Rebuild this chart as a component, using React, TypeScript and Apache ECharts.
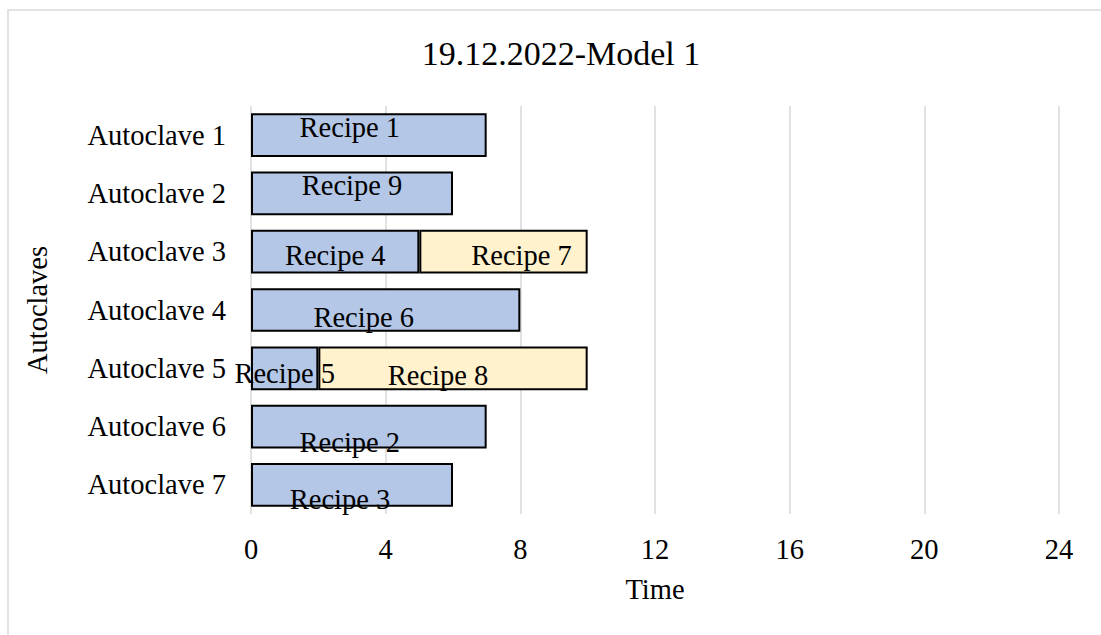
import React, { useEffect, useRef } from "react";
import * as echarts from "echarts";

// Schedule of recipes per autoclave (durations in hours)
const autoclaves = [
  "Autoclave 1",
  "Autoclave 2",
  "Autoclave 3",
  "Autoclave 4",
  "Autoclave 5",
  "Autoclave 6",
  "Autoclave 7",
];
const firstRecipe = ["Recipe 1", "Recipe 9", "Recipe 4", "Recipe 6", "Recipe 5", "Recipe 2", "Recipe 3"];
const firstDuration = [7, 6, 5, 8, 2, 7, 6];
const secondRecipe = ["", "", "Recipe 7", "", "Recipe 8", "", ""];
const secondDuration: (number | null)[] = [null, null, 5, null, 8, null, null];
const timeTicks = [0, 4, 8, 12, 16, 20, 24];

// label nudges (px) so each recipe name sits where it is placed in the schedule sheet
const firstLabelShift = [[-19, -8], [0, -8], [0, 4], [-22, 7], [0, 5], [-19, 16], [-12, 15]];
const secondLabelShift = [[0, 0], [0, 0], [18, 4], [0, 0], [-15, 7], [0, 0], [0, 0]];

const FONT = "'Liberation Serif', 'Times New Roman', serif";
const FS = 28.5;

export default function App() {
  const ref = useRef<HTMLDivElement>(null);

  useEffect(() => {
    if (!ref.current) return;
    const chart = echarts.init(ref.current, null, { renderer: "svg" });

    const labelStyle = {
      show: true,
      position: "inside",
      color: "#000",
      fontFamily: FONT,
      fontSize: FS,
    };

    chart.setOption({
      animation: false,
      backgroundColor: "#fff",
      textStyle: { fontFamily: FONT },
      title: {
        text: "19.12.2022-Model 1",
        left: 556,
        top: 31,
        textAlign: "center",
        textStyle: { fontFamily: FONT, fontSize: 34, fontWeight: "normal", color: "#000" },
      },
      graphic: [
        {
          type: "rect",
          shape: { x: 8, y: 10, width: 1110, height: 640 },
          style: { fill: "none", stroke: "#d9d9d9", lineWidth: 1.5 },
          silent: true,
          z: -1,
        },
      ],
      grid: { left: 251, right: 42, top: 106, bottom: 121, containLabel: false },
      xAxis: {
        type: "value",
        min: timeTicks[0],
        max: timeTicks[timeTicks.length - 1],
        interval: 4,
        name: "Time",
        nameLocation: "middle",
        nameGap: 61,
        nameTextStyle: { fontFamily: FONT, fontSize: FS, color: "#000" },
        axisLine: { show: false },
        axisTick: { show: false },
        axisLabel: { fontFamily: FONT, fontSize: FS, color: "#000", margin: 21 },
        splitLine: { show: true, lineStyle: { color: "#d9d9d9", width: 1.5 } },
      },
      yAxis: {
        type: "category",
        data: autoclaves,
        inverse: true,
        name: "Autoclaves",
        nameLocation: "middle",
        nameGap: 199,
        nameTextStyle: { fontFamily: FONT, fontSize: FS, color: "#000" },
        axisLine: { show: false },
        axisTick: { show: false },
        axisLabel: { fontFamily: FONT, fontSize: FS, color: "#000", margin: 25 },
        splitLine: { show: false },
      },
      series: [
        {
          name: "First recipe",
          type: "bar",
          stack: "schedule",
          barWidth: "75%",
          itemStyle: { color: "#b4c7e7", borderColor: "#000", borderWidth: 2 },
          data: firstDuration.map((v, i) => ({
            value: v,
            label: {
              ...labelStyle,
              formatter: firstRecipe[i],
              offset: firstLabelShift[i],
            },
          })),
        },
        {
          name: "Second recipe",
          type: "bar",
          stack: "schedule",
          barWidth: "75%",
          itemStyle: { color: "#fff2cc", borderColor: "#000", borderWidth: 2 },
          data: secondDuration.map((v, i) => ({
            value: v,
            label: {
              ...labelStyle,
              show: v != null,
              formatter: secondRecipe[i],
              offset: secondLabelShift[i],
            },
          })),
        },
      ],
    });

    return () => chart.dispose();
  }, []);

  return (
    <div
      ref={ref}
      style={{ position: "absolute", left: 0, top: 0, width: 1101, height: 635 }}
    />
  );
}
